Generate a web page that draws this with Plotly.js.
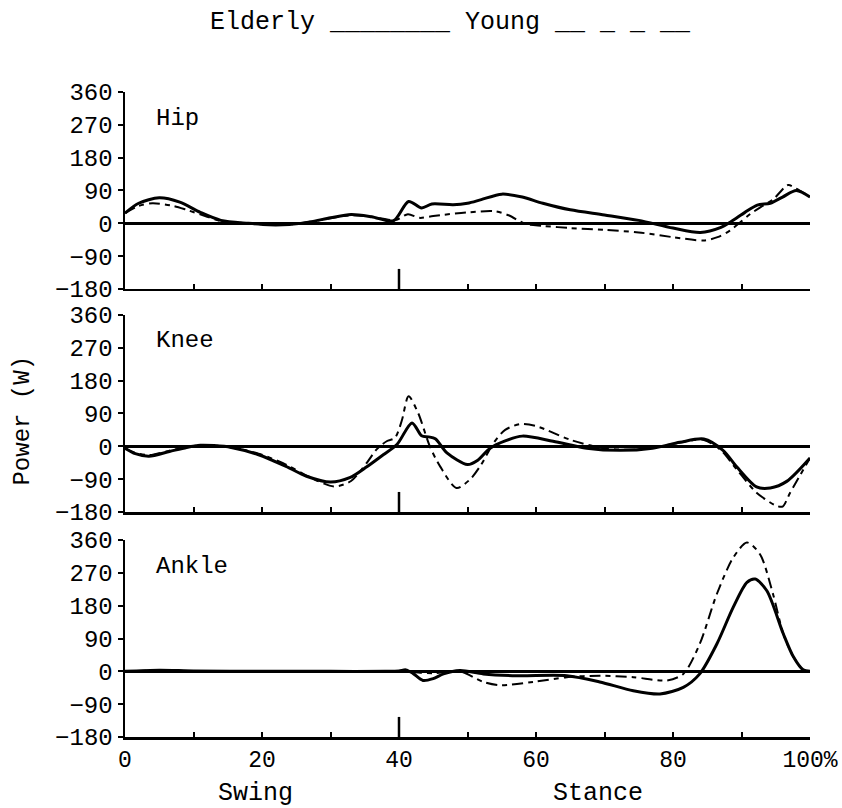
<!DOCTYPE html>
<html>
<head>
<meta charset="utf-8">
<script src="https://cdn.plot.ly/plotly-3.0.1.min.js"></script>
<style>body{margin:0;padding:0;background:#fff;}</style>
</head>
<body>
<div id="chart" style="width:842px;height:808px;"></div>
<script>
// ---- Data (percent of gait cycle vs. joint power in W) ----
const hipElderlyX = [0, 2, 5, 8, 11, 14, 18, 21, 24, 27, 30, 33, 36, 39.2, 41.4, 43.3, 44.8, 47.9, 50, 52, 55, 58, 61, 65, 70, 75, 80, 84, 87, 88.5, 90.5, 92.3, 94.2, 96, 98, 100];
const hipElderlyY = [28, 55, 70, 58, 30, 8, 0, -4, -3, 4, 15, 24, 18, 7, 60, 42, 53, 51, 55, 65, 80, 72, 55, 37, 23, 8, -13, -25, -11, 5, 30, 50, 55, 72, 90, 72];
const hipYoungX = [0, 2, 4, 7, 9, 12, 14, 18, 21, 24, 27, 30, 33, 36, 39.5, 41.3, 43, 45, 50, 54, 56, 58.5, 61, 65, 70, 75, 80, 84.5, 86.5, 88.3, 89.5, 91.3, 93.2, 94.7, 96.8, 98, 100];
const hipYoungY = [28, 48, 55, 48, 37, 18, 6, 0, -4, -3, 4, 14, 22, 18, 9, 25, 15, 20, 30, 33, 22, -2, -7, -13, -18, -25, -38, -47, -38, -20, -2, 26, 49, 67, 105, 95, 72];

const kneeElderlyX = [0, 1.5, 3.5, 6.5, 9, 11, 13, 15.5, 19.5, 23.5, 26.5, 30, 32.8, 35.3, 37.7, 39.7, 41.9, 43.3, 44.3, 45.3, 47, 50, 51.5, 53.3, 55.5, 58, 62.5, 67.4, 72.3, 77, 81, 84.5, 87.3, 89.3, 92.2, 94.2, 96.6, 100];
const kneeElderlyY = [-5, -20, -27, -14, -3, 3, 2, -3, -23, -55, -82, -98, -86, -56, -23, 5, 64, 29, 26, 21, -18, -50, -38, -5, 15, 28, 14, -5, -11, -5, 11, 20, -11, -56, -111, -114, -96, -32];
const kneeYoungX = [0, 1.5, 3.5, 6.5, 9, 11, 13, 15.5, 19.5, 23.5, 26.5, 30.5, 33, 35.3, 36.7, 38.2, 39.4, 40.4, 41.4, 42.8, 44.5, 46, 48.4, 50.4, 52, 53.8, 55.5, 57.7, 60.1, 65, 69.8, 74.7, 79.6, 84.4, 86.9, 89.3, 92.2, 95.1, 96, 97.1, 98.5, 100];
const kneeYoungY = [-5, -18, -24, -12, -2, 3, 2, -3, -20, -50, -80, -110, -95, -45, -9, 14, 23, 70, 137, 91, 0, -55, -114, -90, -50, 9, 45, 61, 55, 18, -5, -9, 5, 18, -9, -63, -127, -163, -165, -127, -81, -32];

const ankleElderlyX = [0, 5, 10, 20, 30, 38, 40, 41, 42, 43.5, 45, 46.5, 48.9, 52.3, 57.2, 64.5, 69.3, 74.2, 78.1, 81.5, 83.9, 86.4, 88.8, 90.8, 92, 93.7, 96.1, 97.6, 99, 100];
const ankleElderlyY = [0, 3, 1, 0, 0, 0, 1, 4, -5, -25, -20, -7, 2, -7, -12, -12, -29, -53, -62, -44, -7, 75, 176, 244, 253, 221, 103, 39, 4, 0];
const ankleYoungX = [0, 5, 10, 20, 30, 38, 40, 42, 45, 48.9, 52.3, 54.7, 59.6, 64.5, 69.3, 74.2, 79.1, 81.5, 83.9, 86.4, 88.8, 90.8, 92.7, 94.6, 96.1, 97.6, 99, 100];
const ankleYoungY = [0, 2, 1, 0, 0, 0, 0, -2, -5, 0, -29, -38, -29, -16, -12, -16, -25, -7, 75, 212, 312, 353, 321, 212, 103, 39, 4, 0];

const panelNames = ["Hip", "Knee", "Ankle"];
const yTickVals = [-180, -90, 0, 90, 180, 270, 360];
const xTickVals = [0, 10, 20, 30, 40, 50, 60, 70, 80, 90, 100];
const xTickText = ["0", "", "20", "", "40", "", "60", "", "80", "", "100%"];
const stanceStart = 40;
const legendText = "Elderly ________ Young __ _ _ __";
const yTitle = "Power (W)";
const phaseLabels = [{text: "Swing", x: 19}, {text: "Stance", x: 69}];

// ---- Styling ----
const FONT = "Liberation Mono, DejaVu Sans Mono, monospace";
const solid = {color: "#000", width: 3, shape: "spline", smoothing: 0.8};
const dashed = {color: "#000", width: 2, shape: "spline", smoothing: 0.8, dash: "11px,5px,5px,5px"};

const series = [
  [hipElderlyX, hipElderlyY, hipYoungX, hipYoungY],
  [kneeElderlyX, kneeElderlyY, kneeYoungX, kneeYoungY],
  [ankleElderlyX, ankleElderlyY, ankleYoungX, ankleYoungY]
];

const traces = [];
series.forEach((s, i) => {
  const sfx = i === 0 ? "" : String(i + 1);
  traces.push({x: s[2], y: s[3], mode: "lines", line: dashed, xaxis: "x" + sfx, yaxis: "y" + sfx, hoverinfo: "skip", showlegend: false});
  traces.push({x: s[0], y: s[1], mode: "lines", line: solid, xaxis: "x" + sfx, yaxis: "y" + sfx, hoverinfo: "skip", showlegend: false});
});

const domains = [[0.6946, 1], [0.3488, 0.6543], [0, 0.3054]];

const layout = {
  width: 842, height: 808,
  margin: {l: 125, r: 32, t: 92, b: 71},
  paper_bgcolor: "#fff", plot_bgcolor: "#fff",
  font: {family: FONT, size: 24, color: "#000"},
  showlegend: false,
  shapes: [],
  annotations: []
};

for (let i = 0; i < 3; i++) {
  const sfx = i === 0 ? "" : String(i + 1);
  layout["xaxis" + sfx] = {
    domain: [0, 1], anchor: "y" + sfx, range: [0, 100],
    showline: true, linewidth: 2.5, linecolor: "#000",
    showgrid: false, zeroline: false,
    ticks: "inside", ticklen: 5, tickwidth: 2, tickcolor: "#000",
    tickmode: "array", tickvals: xTickVals, ticktext: xTickText,
    showticklabels: i === 2,
    tickfont: {family: FONT, size: 23, color: "#000"}
  };
  layout["yaxis" + sfx] = {
    domain: domains[i], anchor: "x" + sfx, range: [-180, 360],
    showline: true, linewidth: 2.5, linecolor: "#000",
    showgrid: false, zeroline: true, zerolinewidth: 2.5, zerolinecolor: "#000",
    ticks: "outside", ticklen: 5, tickwidth: 2, tickcolor: "#000",
    tickmode: "array", tickvals: yTickVals,
    tickfont: {family: FONT, size: 24, color: "#000"}
  };
  layout.shapes.push({
    type: "line", xref: "x" + sfx, yref: "y" + sfx,
    x0: stanceStart, x1: stanceStart, y0: -180, y1: -125,
    line: {color: "#000", width: 2.5}
  });
  layout.annotations.push({
    text: panelNames[i], xref: "x" + sfx + " domain", yref: "y" + sfx + " domain",
    x: 0.042, y: 0.868, xanchor: "left", yanchor: "middle", showarrow: false,
    font: {family: FONT, size: 24, color: "#000"}
  });
}

layout.annotations.push({
  text: legendText, xref: "paper", yref: "paper",
  x: (208 - 125) / 685, y: 1.108, xanchor: "left", yanchor: "middle", showarrow: false,
  font: {family: FONT, size: 25, color: "#000"}
});
layout.annotations.push({
  text: yTitle, xref: "paper", yref: "paper", textangle: -90,
  x: -0.150, y: 0.491, xanchor: "center", yanchor: "middle", showarrow: false,
  font: {family: FONT, size: 24, color: "#000"}
});
phaseLabels.forEach(p => {
  layout.annotations.push({
    text: p.text, xref: "x3", yref: "paper", x: p.x, y: -0.087,
    xanchor: "center", yanchor: "middle", showarrow: false,
    font: {family: FONT, size: 25, color: "#000"}
  });
});

Plotly.newPlot("chart", traces, layout, {staticPlot: true, displayModeBar: false});
</script>
</body>
</html>
